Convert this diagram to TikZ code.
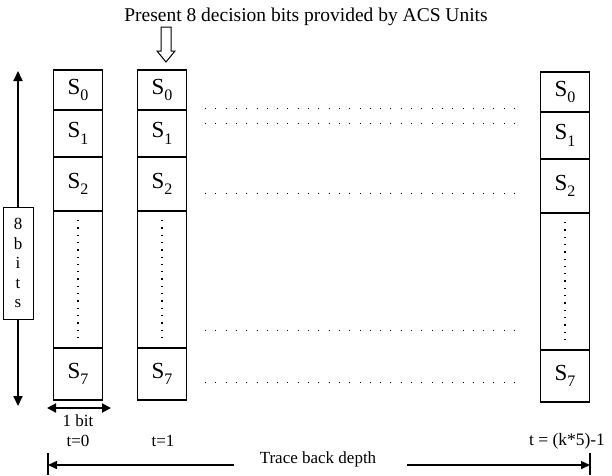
\documentclass[tikz,border=0pt]{standalone}
\usepackage{fontspec}
\setmainfont{Liberation Serif}
\usetikzlibrary{arrows.meta,positioning}

\newcommand{\sbit}[1]{S\raisebox{-0.6ex}{\fontsize{16}{16}\selectfont #1}}

\begin{document}
\begin{tikzpicture}[x=1pt, y=-1pt,
  every node/.style={font=\fontsize{17}{20}\selectfont},
  cell/.style={draw, line width=1.2pt, minimum width=49pt, inner sep=0pt, outer sep=0pt, font=\fontsize{23}{24}\selectfont},
  dotrow/.style={line width=1pt, dash pattern=on 1pt off 9.3pt},
  dotcol/.style={line width=1.3pt, dash pattern=on 1.3pt off 6pt},
  bigarrow/.style={line width=2pt, -{Triangle[length=10pt,width=9pt]}}]
  \useasboundingbox (0,0) rectangle (612,475);

  % title and input arrow
  \node[font=\fontsize{19.5}{22}\selectfont] (title) at (306,17) {Present 8 decision bits provided by ACS Units};
  \draw[line width=1pt] (161,27) -- (171,27) -- (171,51) -- (175,51) -- (166,62) -- (157,51) -- (161,51) -- cycle;

  % columns of decision bits
  \foreach \c/\x/\dy in {a/78/0, b/162/0, c/565/2} {
    \node[cell, minimum height=40pt] (\c0) at (\x,90+\dy) {\sbit{0}};
    \node[cell, minimum height=47pt, below=0pt of \c0] (\c1) {\sbit{1}};
    \node[cell, minimum height=54pt, below=0pt of \c1] (\c2) {\sbit{2}};
    \node[cell, minimum height=137pt, below=0pt of \c2] (\c3) {};
    \node[cell, minimum height=52pt, below=0pt of \c3] (\c7) {\sbit{7}};
    \draw[dotcol] ([yshift=-9pt]\c3.north) -- ([yshift=11pt]\c3.south);
  }

  % dots between columns
  \foreach \y in {108,123,193,330,382}
    \draw[dotrow] (205,\y) -- (518,\y);

  % 8 bits
  \node[draw, line width=1pt, minimum width=30pt, minimum height=112pt, inner sep=0pt,
        align=center, font=\fontsize{17}{19.5}\selectfont] (bits) at (18,263) {8\\b\\i\\t\\s};
  \coordinate (btop) at (18,71);
  \coordinate (bbot) at (18,406);
  \draw[bigarrow] (bits.north) -- (btop);
  \draw[bigarrow] (bits.south) -- (bbot);

  % 1 bit
  \coordinate (wl) at (47,408);
  \coordinate (wr) at (111,408);
  \draw[line width=2pt, {Triangle[length=9pt,width=9pt]}-{Triangle[length=9pt,width=9pt]}] (wl) -- (wr);
  \node (onebit) at (78,421) {1 bit};

  % time steps
  \node (t0) at (78,441) {t=0};
  \node (t1) at (163,441) {t=1};
  \node[font=\fontsize{17.5}{20}\selectfont] (tk) at (567,441) {t = (k*5)-1};

  % trace back depth
  \node (depth) at (318,459) {Trace back depth};
  \coordinate (tl) at (48,465);
  \coordinate (tr) at (590,465);
  \draw[line width=1.5pt, -{Triangle[length=9pt,width=8pt]}] ([xshift=-22pt]depth.west |- tl) -- (tl);
  \draw[line width=1.5pt, -{Triangle[length=9pt,width=8pt]}] ([xshift=27pt]depth.east |- tr) -- (tr);
  \draw[line width=1.5pt] (tl) ++(0,-12) -- ++(0,22);
  \draw[line width=1.5pt] (tr) ++(0,-12) -- ++(0,22);
\end{tikzpicture}
\end{document}
